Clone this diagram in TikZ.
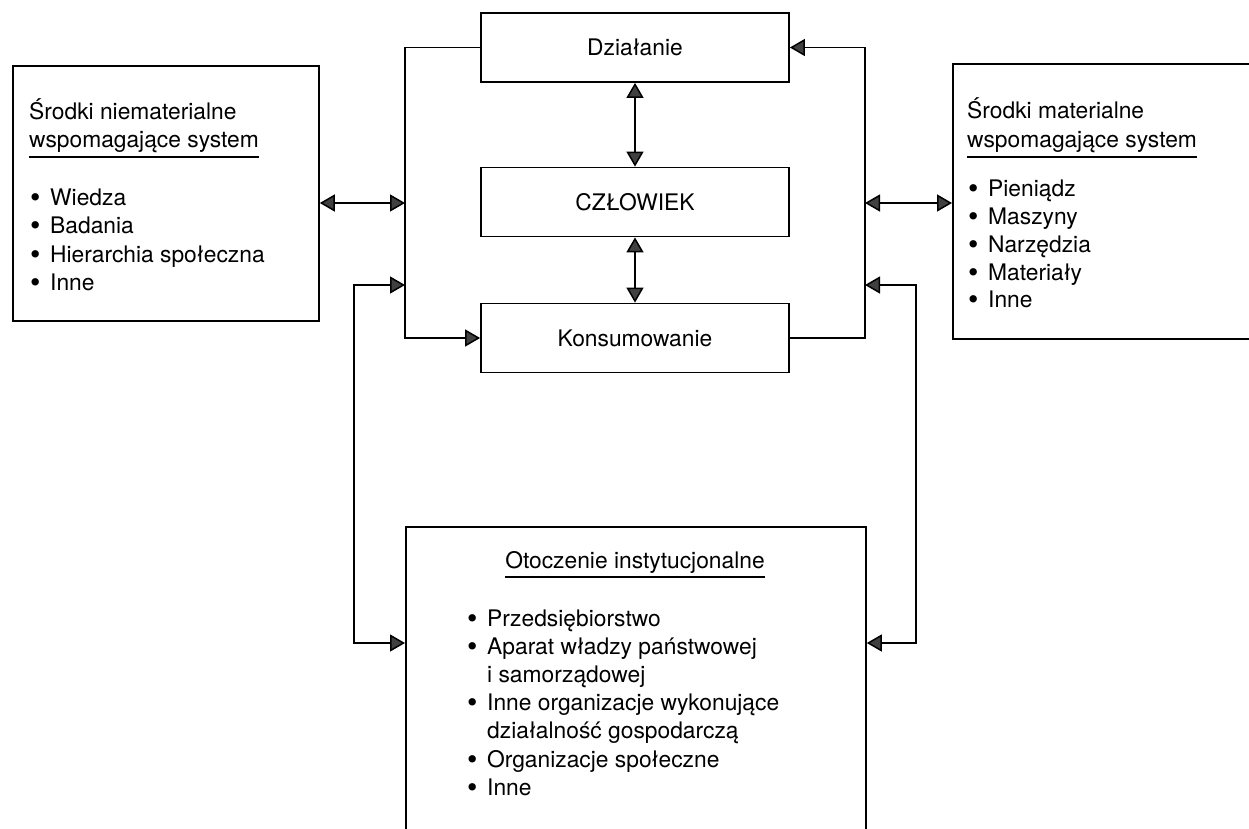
\documentclass[tikz,border=0pt]{standalone}
\usepackage{fontspec}
\setmainfont{TeX Gyre Heros}
\usetikzlibrary{arrows.meta}
\newcommand\bu{\makebox[21pt][l]{\kern1pt\raisebox{-2.2pt}{\scalebox{1.3}{•}}}}
\begin{document}
\begin{tikzpicture}[x=1pt,y=-1pt,
  font=\fontsize{22.8}{28}\selectfont,
  frame/.style={draw=black,line width=1.8pt,inner sep=0pt},
  cbox/.style={frame,minimum width=308pt,minimum height=69pt},
  bigbox/.style={frame,anchor=north west},
  txt/.style={anchor=base west,inner sep=0pt},
  conn/.style={line width=1.5pt},
  uline/.style={line width=1.2pt},
  ah/.tip={Triangle[length=15pt,width=17pt,fill=black!75]},
]
\useasboundingbox (0,0) rectangle (1249,828);
\clip (0,0) rectangle (1249,828);

% central column
\node[cbox] (dz) at (635,47.5) {Działanie};
\node[cbox] (cz) at (635,202) {CZŁOWIEK};
\node[cbox] (ko) at (635,338) {Konsumowanie};

% left box
\node[bigbox,minimum width=306pt,minimum height=255pt] (lb) at (12,65) {};
\node[txt] (lt1) at (29,119) {Środki niematerialne};
\node[txt] (lt2) at (29,147) {wspomagające system};
\draw[uline] (lt2.west |- 0,157) -- (lt2.east |- 0,157);
\node[txt] (lb1) at (29,205) {\bu Wiedza};
\node[txt] (lb2) at (29,233) {\bu Badania};
\node[txt] (lb3) at (29,262) {\bu Hierarchia społeczna};
\node[txt] (lb4) at (29,290) {\bu Inne};

% right box
\node[bigbox,minimum width=306pt,minimum height=275pt] (rb) at (952,63) {};
\node[txt] (rt1) at (967,118) {Środki materialne};
\node[txt] (rt2) at (967,147) {wspomagające system};
\draw[uline] (rt2.west |- 0,157) -- (rt2.east |- 0,157);
\node[txt] (rb1) at (967,196) {\bu Pieniądz};
\node[txt] (rb2) at (967,224) {\bu Maszyny};
\node[txt] (rb3) at (967,252) {\bu Narzędzia};
\node[txt] (rb4) at (967,280) {\bu Materiały};
\node[txt] (rb5) at (967,307) {\bu Inne};

% bottom box
\node[bigbox,minimum width=460pt,minimum height=400pt] (ob) at (405,526) {};
\node[anchor=base,inner sep=0pt] (oh) at (635,568) {Otoczenie instytucjonalne};
\draw[uline] (oh.west |- 0,577) -- (oh.east |- 0,577);
\node[txt] (o1) at (466,626) {\bu Przedsiębiorstwo};
\node[txt] (o2) at (466,654) {\bu Aparat władzy państwowej};
\node[txt] (o3) at (466,682) {\hspace*{21pt}i samorządowej};
\node[txt] (o4) at (466,710) {\bu Inne organizacje wykonujące};
\node[txt] (o5) at (466,738) {\hspace*{21pt}działalność gospodarczą};
\node[txt] (o6) at (466,767) {\bu Organizacje społeczne};
\node[txt] (o7) at (466,795) {\bu Inne};

% junction coordinates
\coordinate (lvT) at (405,47.5);
\coordinate (lvB) at (405,338);
\coordinate (lvA) at (405,203);
\coordinate (lvF) at (405,285);
\coordinate (rvT) at (865,47.5);
\coordinate (rvB) at (865,338);
\coordinate (rvA) at (865,203);
\coordinate (rvF) at (865,285);
\coordinate (fl1) at (354,285);
\coordinate (fl2) at (354,643);
\coordinate (fr1) at (916,285);
\coordinate (fr2) at (916,643);

% connectors
\draw[conn,-{ah}] (dz.west) -- (lvT) -- (lvB) -- (ko.west);
\draw[conn,-{ah}] (ko.east) -- (rvB) -- (rvT) -- (dz.east);
\draw[conn,{ah}-{ah}] (dz.south) -- (cz.north);
\draw[conn,{ah}-{ah}] (cz.south) -- (ko.north);
\draw[conn,{ah}-{ah}] (lb.east |- lvA) -- (lvA);
\draw[conn,{ah}-{ah}] (rvA) -- (rb.west |- rvA);
\draw[conn,{ah}-{ah}] (lvF) -- (fl1) -- (fl2) -- (ob.west |- fl2);
\draw[conn,{ah}-{ah}] (rvF) -- (fr1) -- (fr2) -- (ob.east |- fr2);
\end{tikzpicture}
\end{document}
